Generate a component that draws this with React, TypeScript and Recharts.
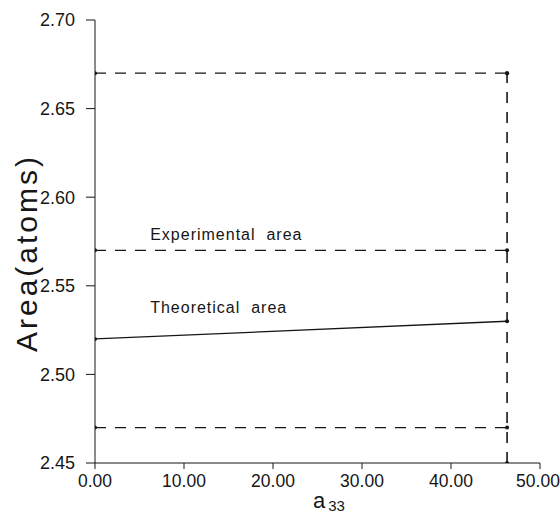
import React from 'react';
import { LineChart, Line, XAxis, YAxis, ReferenceDot, Label } from 'recharts';

// x extent of the rectangle (a33) and the area values
const xStart = 0;
const xEnd = 46.3;
const upperBound = 2.67;
const experimental = 2.57;
const lowerBound = 2.47;
const theoreticalStart = 2.52;
const theoreticalEnd = 2.53;
const axisFloor = 2.45;

const xTicks = [0, 10, 20, 30, 40, 50];
const yTicks = [2.45, 2.5, 2.55, 2.6, 2.65, 2.7];

const notes = [
  { x: 6.2, y: 2.5757, text: 'Experimental  area' },
  { x: 6.2, y: 2.5345, text: 'Theoretical  area' },
];

const upperLine = [
  { x: xStart, y: upperBound },
  { x: xEnd, y: upperBound },
];
const experimentalLine = [
  { x: xStart, y: experimental },
  { x: xEnd, y: experimental },
];
const lowerLine = [
  { x: xStart, y: lowerBound },
  { x: xEnd, y: lowerBound },
];
const rightEdge = [
  { x: xEnd, y: axisFloor },
  { x: xEnd, y: upperBound },
];
const theoretical = [
  { x: xStart, y: theoreticalStart },
  { x: xEnd, y: theoreticalEnd },
];

const INK = '#161616';
const FONT = '"Liberation Sans", Arial, sans-serif';
const dot = { r: 2, fill: INK, stroke: 'none' };
const dash = '11 9';

const YTitle = () => (
  <text
    x={37}
    y={253}
    transform="rotate(-90 37 253)"
    textAnchor="middle"
    fontSize={30}
    fontFamily={FONT}
    fill={INK}
    style={{ letterSpacing: 3 }}
  >
    Area(atoms)
  </text>
);

const XTitle = () => (
  <text x={313} y={508} fontFamily={FONT} fill={INK}>
    <tspan fontSize={22}>a</tspan>
    <tspan fontSize={15} dx={3} dy={3}>33</tspan>
  </text>
);

// last label sits on the right edge, nudge it in a little
const XTick = (props: any) => {
  const { x, y, payload } = props;
  const last = payload.value === xTicks[xTicks.length - 1];
  return (
    <text
      x={last ? x - 2 : x}
      y={y}
      dy={14}
      textAnchor="middle"
      fontSize={17.5}
      fontFamily={FONT}
      fill={INK}
    >
      {payload.value.toFixed(2)}
    </text>
  );
};

export default function App() {
  return (
    <div style={{ position: 'absolute', left: 0, top: 0, background: '#fff' }}>
      <LineChart width={560} height={514} margin={{ top: 20, right: 20, bottom: 0, left: 0 }}>
        <XAxis
          type="number"
          dataKey="x"
          domain={[0, 50]}
          ticks={xTicks}
          allowDataOverflow
          height={51}
          tickSize={6}
          tickMargin={4}
          stroke={INK}
          tick={<XTick />}
        >
          <Label content={<XTitle />} />
        </XAxis>
        <YAxis
          type="number"
          dataKey="y"
          domain={[2.45, 2.7]}
          ticks={yTicks}
          tickFormatter={(v: number) => v.toFixed(2)}
          allowDataOverflow
          width={95}
          tickSize={9}
          tickMargin={11}
          stroke={INK}
          tick={{ fill: INK, fontSize: 18, fontFamily: FONT }}
        >
          <Label content={<YTitle />} />
        </YAxis>
        <Line data={upperLine} dataKey="y" stroke={INK} strokeWidth={1.3} strokeDasharray={dash} dot={dot} isAnimationActive={false} />
        <Line data={experimentalLine} dataKey="y" stroke={INK} strokeWidth={1.3} strokeDasharray={dash} dot={dot} isAnimationActive={false} />
        <Line data={lowerLine} dataKey="y" stroke={INK} strokeWidth={1.3} strokeDasharray={dash} dot={dot} isAnimationActive={false} />
        <Line data={rightEdge} dataKey="y" stroke={INK} strokeWidth={1.6} strokeDasharray={dash} dot={dot} isAnimationActive={false} />
        <Line data={theoretical} dataKey="y" stroke={INK} strokeWidth={1.3} dot={dot} isAnimationActive={false} />
        {notes.map((n) => (
          <ReferenceDot
            key={n.text}
            x={n.x}
            y={n.y}
            r={0}
            shape={(p: any) => (
              <text
                x={p.cx}
                y={p.cy}
                fontSize={16}
                fontFamily={FONT}
                fill={INK}
                style={{ letterSpacing: 1, whiteSpace: 'pre' }}
              >
                {n.text}
              </text>
            )}
          />
        ))}
      </LineChart>
    </div>
  );
}
